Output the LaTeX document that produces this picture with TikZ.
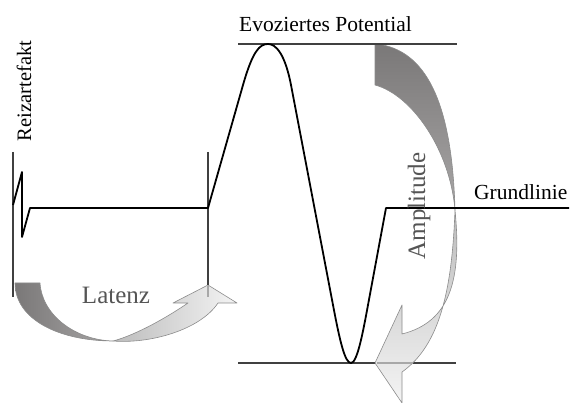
\documentclass[tikz,border=0pt]{standalone}
\usepackage{fontspec}
\setmainfont{Liberation Serif}
\definecolor{bar}{HTML}{404040}
\definecolor{edge}{HTML}{8C8C8C}
\definecolor{lbl}{HTML}{555555}
\definecolor{darkA}{HTML}{7A7878}
\definecolor{darkB}{HTML}{A8A6A6}
\definecolor{lightA}{HTML}{BCBCBC}
\definecolor{lightB}{HTML}{F4F4F4}
\definecolor{faint}{HTML}{A8A8A8}
\tikzset{
  barline/.style={draw=bar, line width=2.6pt},
  signal/.style={draw=black, line width=1.8pt, line join=round},
  arrowedge/.style={draw=edge, line width=0.6pt, line join=round},
  lab/.style={font=\fontsize{21.5}{24}\selectfont, text=black, inner sep=0pt},
  biglab/.style={font=\fontsize{25}{28}\selectfont, text=lbl, inner sep=0pt},
}
\begin{document}
\begin{tikzpicture}[x=1pt,y=-1pt]
\useasboundingbox (0,0) rectangle (571,403);

% named coordinates
\coordinate (b1t) at (13,152);  \coordinate (b1b) at (13,297);
\coordinate (b2t) at (208,152); \coordinate (b2b) at (208,285);
\coordinate (topL) at (238,44); \coordinate (topR) at (457,44);
\coordinate (botL) at (238,363); \coordinate (botR) at (456,363);

% bottom line (under arrow)
\draw[barline] (botL) -- (botR);

% Latenz arrow: tail
\shade[left color=darkA, right color=darkB] (15,283) -- (40,283) .. controls (42,315) and (75,340) .. (113,341) .. controls (60,341) and (15,320) .. (15,283) -- cycle;
\draw[arrowedge] (15,283) -- (40,283) .. controls (42,315) and (75,340) .. (113,341) .. controls (60,341) and (15,320) .. (15,283) -- cycle;
% Latenz arrow: shaft and head
\shade[left color=lightA, right color=lightB] (113,341) .. controls (132,336) and (160,322) .. (188,303) -- (173,303) -- (208,285) -- (237,303) -- (218,303) .. controls (200,330) and (150,344) .. (113,341) -- cycle;
\draw[arrowedge] (113,341) .. controls (132,336) and (160,322) .. (188,303) -- (173,303) -- (208,285) -- (237,303) -- (218,303) .. controls (200,330) and (150,344) .. (113,341) -- cycle;

% Amplitude arrow: tail
\shade[top color=darkA, bottom color=darkB] (375,44) -- (375,85) .. controls (412,95) and (450,150) .. (455,210) .. controls (452,100) and (425,50) .. (377,44) -- cycle;
\draw[arrowedge] (375,44) -- (375,85) .. controls (412,95) and (450,150) .. (455,210) .. controls (452,100) and (425,50) .. (377,44) -- cycle;
% Amplitude arrow: shaft and head
\shade[top color=lightA, bottom color=lightB] (455,210) .. controls (462,280) and (450,322) .. (402,334) -- (402,305) -- (375,363) -- (402,403) -- (402,372) .. controls (440,345) and (452,290) .. (455,210) -- cycle;
\draw[arrowedge] (455,210) .. controls (462,280) and (450,322) .. (402,334) -- (402,305) -- (375,363) -- (402,403) -- (402,372) .. controls (440,345) and (452,290) .. (455,210) -- cycle;

% lines seen through the arrow heads
\draw[draw=faint, line width=2pt] (377,363) -- (413,363);
\draw[draw=faint, line width=1.5pt] (208,286) -- (208,297);

% bars and reference lines
\draw[barline] (b1t) -- (b1b);
\draw[barline] (b2t) -- (b2b);
\draw[barline] (topL) -- (topR);

% signal
\draw[signal] (13,205) -- (22,172) -- (22,237) -- (30,208) -- (208,208) -- (243,85)
  .. controls (253,50) and (260,44) .. (268,44)
  .. controls (276,44) and (285,54) .. (291,85) -- (333,305)
  .. controls (340,342) and (345,363) .. (351,363)
  .. controls (357,363) and (362.5,335) .. (368,305) -- (386,208) -- (569,208);

% labels
\node[lab, anchor=base] (evo) at (325.5,32) {Evoziertes Potential};
\node[lab, anchor=base west] (grund) at (474,200) {Grundlinie};
\node[lab, rotate=90, anchor=base, font=\fontsize{20.5}{24}\selectfont] (reiz) at (31,91) {Reizartefakt};
\node[biglab, rotate=90, anchor=base] (amp) at (425,206) {Amplitude};
\node[biglab, anchor=base] (lat) at (116,304) {Latenz};
\end{tikzpicture}
\end{document}
